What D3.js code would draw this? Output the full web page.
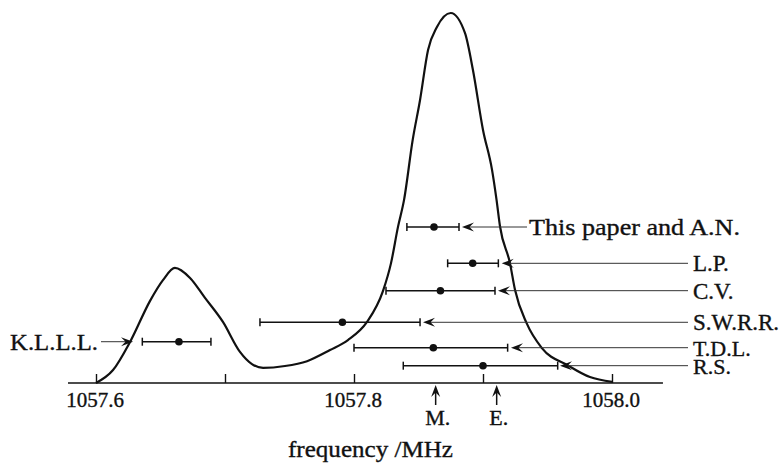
<!DOCTYPE html>
<html>
<head>
<meta charset="utf-8">
<script src="https://cdn.jsdelivr.net/npm/d3@7"></script>
<style>
  html, body { margin: 0; padding: 0; background: #fff; }
  svg text { font-family: "Liberation Serif", "Times New Roman", serif; fill: #111; stroke: #111; stroke-width: 0.35px; }
</style>
</head>
<body>
<svg id="chart" width="781" height="466"></svg>
<script>
// ---- data ----
const curveFreq = [1057.6000, 1057.6132, 1057.6264, 1057.6419, 1057.6519, 1057.6612, 1057.6729, 1057.6845,
  1057.6984, 1057.7116, 1057.7209, 1057.7295, 1057.7465, 1057.7636, 1057.7814, 1057.7953, 1057.8101,
  1057.8225, 1057.8287, 1057.8341, 1057.8388, 1057.8455, 1057.8512, 1057.8574, 1057.8643, 1057.8750,
  1057.8860, 1057.8922, 1057.9000, 1057.9070, 1057.9105, 1057.9132, 1057.9209, 1057.9248, 1057.9339,
  1057.9455, 1057.9661, 1057.9829, 1058.0000];
const curveIntensity = [0.000, 0.035, 0.111, 0.222, 0.278, 0.311, 0.284, 0.230,
  0.165, 0.084, 0.051, 0.041, 0.046, 0.059, 0.089, 0.116, 0.165,
  0.249, 0.324, 0.422, 0.495, 0.657, 0.765, 0.900, 0.962, 1.000,
  0.946, 0.846, 0.684, 0.576, 0.495, 0.423, 0.324, 0.252, 0.161,
  0.095, 0.047, 0.016, 0.003];

const measLabels = ["This paper and A.N.", "L.P.", "C.V.", "S.W.R.R.", "T.D.L.", "R.S.", "K.L.L.L."];
const measValue  = [1057.862, 1057.892, 1057.867, 1057.791, 1057.8615, 1057.900, 1057.6643];
const measLow    = [1057.841, 1057.8726, 1057.8248, 1057.7271, 1057.800, 1057.8382, 1057.6359];
const measHigh   = [1057.8814, 1057.9119, 1057.9093, 1057.8512, 1057.9191, 1057.9579, 1057.6891];
// vertical placement level of each measurement row (relative intensity units)
const measLevel  = [0.4216, 0.3235, 0.2495, 0.1641, 0.0954, 0.0468, 0.1116];
const arrowEnd   = [1057.8837, 1057.9145, 1057.9116, 1057.8535, 1057.9217, 1057.9597, 1057.6287];

const tickValues = [1057.6, 1057.7, 1057.8, 1057.9, 1058.0];
const tickLabels = ["1057.6", "", "1057.8", "", "1058.0"];
const markerNames = ["M.", "E."];
const markerFreq = [1057.8633, 1057.9106];
const axisTitle = "frequency /MHz";

// ---- scales ----
const svg = d3.select("#chart");
const x = d3.scaleLinear().domain([1057.6, 1058.0]).range([96, 612]);
const y = d3.scaleLinear().domain([0, 1]).range([383, 13]);
const axisY = y(0);

// axis line
svg.append("line")
  .attr("x1", x(1057.5783)).attr("x2", x(1058.0395))
  .attr("y1", axisY).attr("y2", axisY)
  .attr("stroke", "#111").attr("stroke-width", 1.6);

// ticks (upward) via d3 axis
const axis = d3.axisTop(x).tickValues(tickValues).tickSize(9).tickFormat("");
const axG = svg.append("g").attr("transform", `translate(0,${axisY})`).call(axis);
axG.select(".domain").remove();
axG.selectAll(".tick line").attr("stroke", "#111").attr("stroke-width", 1.4);

// tick labels
svg.selectAll("text.ticklab").data(tickValues.map((v, i) => ({ v, t: tickLabels[i] })).filter(d => d.t))
  .enter().append("text").attr("class", "ticklab")
  .attr("x", d => x(d.v) - 1).attr("y", 407)
  .attr("text-anchor", "middle").attr("font-size", 21)
  .text(d => d.t);

// curve
const pts = curveFreq.map((f, i) => [f, curveIntensity[i]]);
svg.append("path")
  .datum(pts)
  .attr("fill", "none").attr("stroke", "#111").attr("stroke-width", 2.2)
  .attr("d", d3.line().x(d => x(d[0])).y(d => y(d[1])).curve(d3.curveMonotoneX));

// arrowhead helper (barbed)
function arrowHead(g, tipX, tipY, dir) {
  const L = 12, W = 4.5, notch = 7.5;
  let p;
  if (dir === "up") {
    p = [[tipX, tipY], [tipX + W, tipY + L], [tipX, tipY + notch], [tipX - W, tipY + L]];
  } else {
    const s = -dir;
    p = [[tipX, tipY], [tipX + s * L, tipY - W], [tipX + s * notch, tipY], [tipX + s * L, tipY + W]];
  }
  g.append("path").attr("d", "M" + p.map(q => q.join(",")).join("L") + "Z").attr("fill", "#111");
}

// measurements
const mg = svg.append("g");
measLabels.forEach((lab, i) => {
  const ry = y(measLevel[i]);
  const lo = x(measLow[i]), hi = x(measHigh[i]), v = x(measValue[i]);
  mg.append("line").attr("x1", lo).attr("x2", hi).attr("y1", ry).attr("y2", ry)
    .attr("stroke", "#111").attr("stroke-width", 1.5);
  [lo, hi].forEach(cx => mg.append("line").attr("x1", cx).attr("x2", cx)
    .attr("y1", ry - 4).attr("y2", ry + 4).attr("stroke", "#111").attr("stroke-width", 1.5));
  mg.append("circle").attr("cx", v).attr("cy", ry).attr("r", 3.8).attr("fill", "#111");

  const tip = x(arrowEnd[i]);
  if (i === 6) {
    mg.append("text").attr("x", 98).attr("y", ry + 8).attr("text-anchor", "end")
      .attr("font-size", 24).attr("textLength", 88).attr("lengthAdjust", "spacingAndGlyphs").text(lab);
    mg.append("line").attr("x1", 101).attr("x2", tip - 6).attr("y1", ry).attr("y2", ry)
      .attr("stroke", "#333").attr("stroke-width", 1);
    arrowHead(mg, tip, ry, 1);
  } else {
    const lineEnd = i === 0 ? 527 : 688;
    const textX = i === 0 ? 529 : 693;
    mg.append("line").attr("x1", tip + 6).attr("x2", lineEnd).attr("y1", ry).attr("y2", ry)
      .attr("stroke", "#333").attr("stroke-width", 1);
    arrowHead(mg, tip, ry, -1);
    const t = mg.append("text").attr("x", textX).attr("y", ry + 8).attr("font-size", i >= 4 ? 22 : 23).text(lab);
    if (i === 0) t.attr("textLength", 211).attr("lengthAdjust", "spacingAndGlyphs");
  }
});

// M. and E. markers below the axis
markerNames.forEach((n, i) => {
  const mx = x(markerFreq[i]);
  svg.append("line").attr("x1", mx).attr("x2", mx).attr("y1", 392).attr("y2", 405)
    .attr("stroke", "#111").attr("stroke-width", 1.5);
  arrowHead(svg, mx, 385, "up");
  svg.append("text").attr("x", mx + 2).attr("y", 425).attr("text-anchor", "middle")
    .attr("font-size", 22).text(n);
});

// axis title
svg.append("text").attr("x", 370.5).attr("y", 457).attr("text-anchor", "middle")
  .attr("font-size", 24).attr("textLength", 165).attr("lengthAdjust", "spacingAndGlyphs").text(axisTitle);
</script>
</body>
</html>
